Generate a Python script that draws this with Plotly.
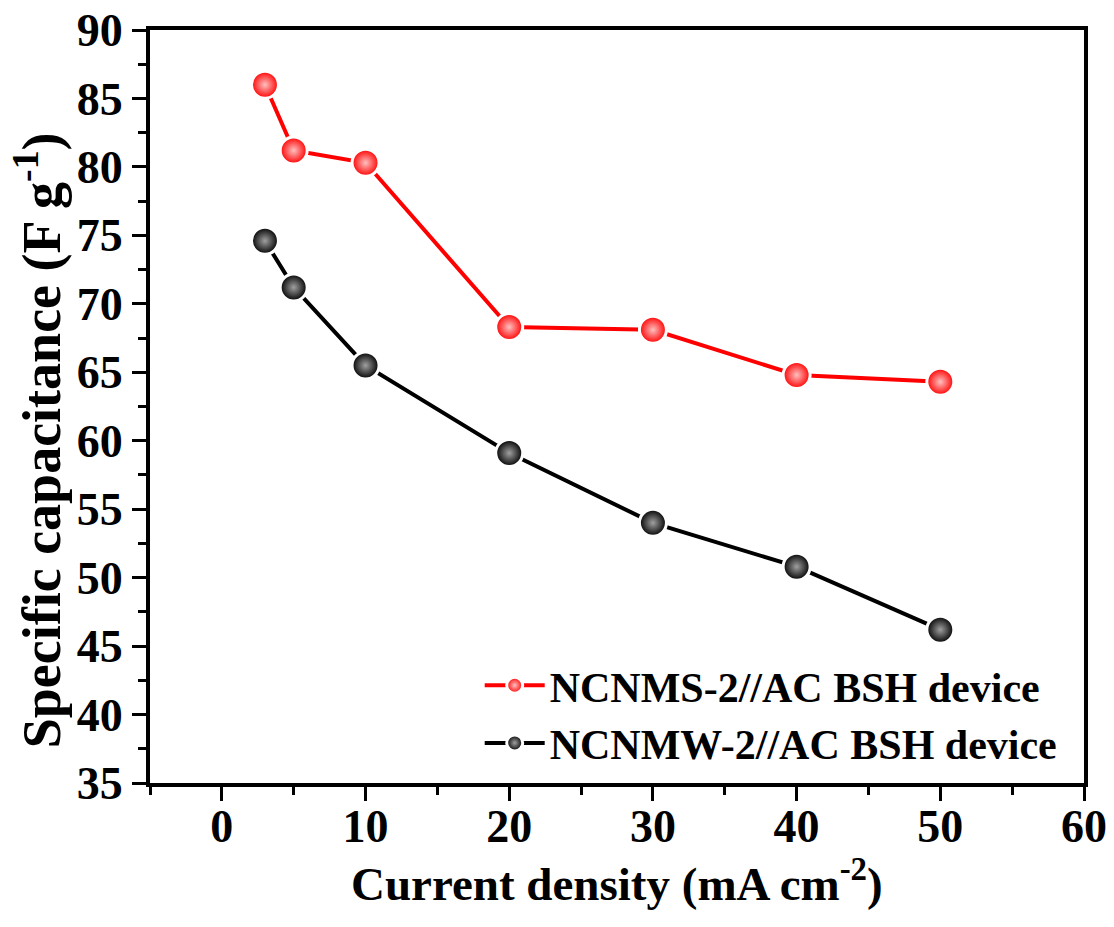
import plotly.graph_objects as go

current_density = [3, 5, 10, 20, 30, 40, 50]
ncnms_cap = [86.0, 81.2, 80.3, 68.3, 68.1, 64.8, 64.3]
ncnmw_cap = [74.6, 71.2, 65.5, 59.1, 54.0, 50.8, 46.2]
series_names = ["NCNMS-2//AC BSH device", "NCNMW-2//AC BSH device"]
series_colors = ["#ff0000", "#000000"]
highlight_colors = ["#ffc0c0", "#a0a0a0"]
x_title = "Current density (mA cm<sup>-2</sup>)"
y_title = "Specific capacitance (F g<sup>-1</sup>)"

FONT = "Liberation Serif, Times New Roman, serif"

fig = go.Figure()
for name, ys, col, hl in zip(series_names, [ncnms_cap, ncnmw_cap], series_colors, highlight_colors):
    fig.add_trace(go.Scatter(
        x=current_density, y=ys, name=name, mode="lines+markers",
        line=dict(color=col, width=4),
        marker=dict(size=27, color=col, symbol="circle",
                    gradient=dict(type="radial", color=hl),
                    line=dict(color="white", width=3)),
    ))

axis_common = dict(
    showline=True, linecolor="black", linewidth=4, mirror=True,
    ticks="outside", ticklen=14, tickwidth=3, tickcolor="black",
    showgrid=False, zeroline=False, automargin=False,
    tickfont=dict(family=FONT, size=46, color="black", weight="bold"),
)

fig.update_layout(
    width=1114, height=927,
    margin=dict(l=150, r=30, t=30, b=144),
    paper_bgcolor="white", plot_bgcolor="white",
    showlegend=True,
    legend=dict(x=0.353, y=0.091, xanchor="left", yanchor="middle",
                bgcolor="rgba(0,0,0,0)",
                font=dict(family=FONT, size=42, color="black", weight="bold"),
                itemwidth=60, tracegroupgap=0),
    xaxis=dict(range=[-5, 60], tickvals=[0, 10, 20, 30, 40, 50, 60],
               ticklabelstandoff=-14,
               minor=dict(ticks="outside", ticklen=8, tickwidth=3, tickcolor="black", dtick=5, tick0=-5),
               **axis_common),
    yaxis=dict(range=[35, 90], tickvals=[35, 40, 45, 50, 55, 60, 65, 70, 75, 80, 85, 90],
               minor=dict(ticks="outside", ticklen=8, tickwidth=3, tickcolor="black", dtick=2.5, tick0=35),
               **axis_common),
    annotations=[
        dict(text=x_title, xref="paper", yref="paper", x=0.5, y=-0.129,
             xanchor="center", yanchor="middle", showarrow=False,
             font=dict(family=FONT, size=47, color="black", weight="bold")),
        dict(text=y_title, xref="paper", yref="paper", x=-0.12, y=0.455,
             xanchor="center", yanchor="middle", showarrow=False, textangle=-90,
             font=dict(family=FONT, size=54, color="black", weight="bold")),
    ],
)

fig.write_html("out.html")
